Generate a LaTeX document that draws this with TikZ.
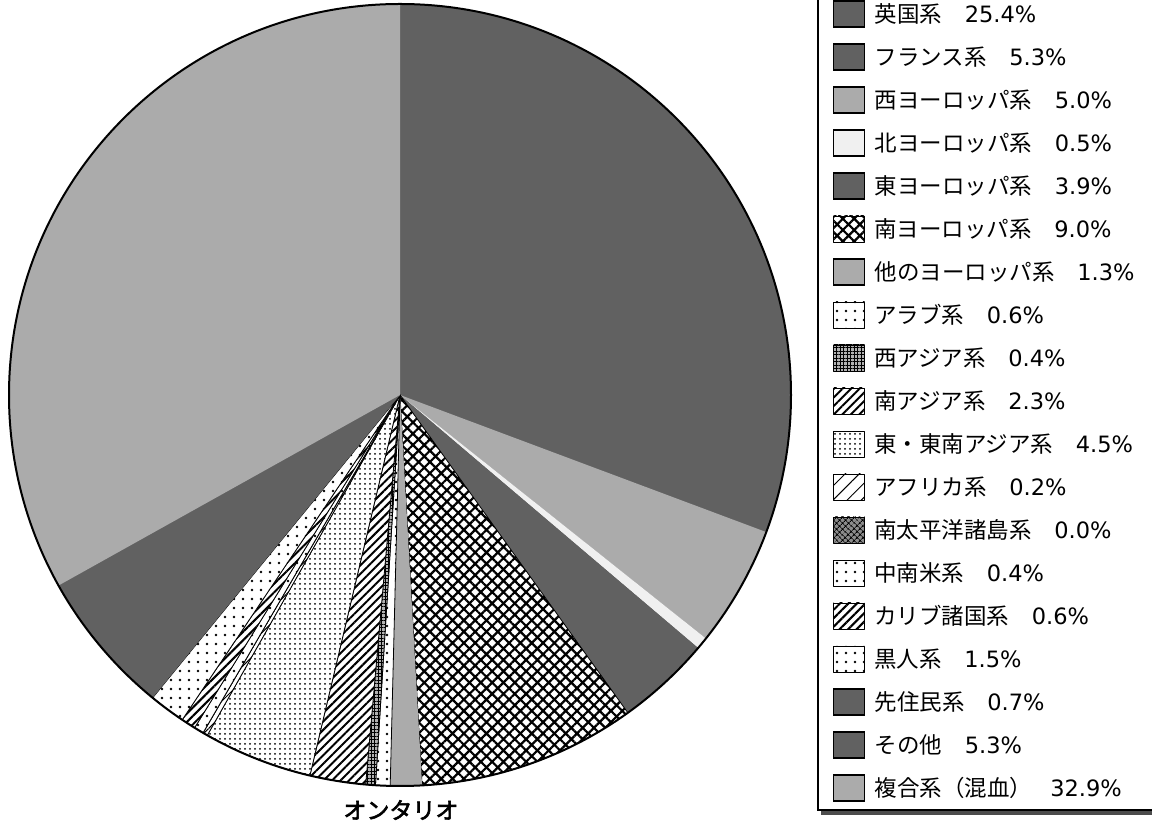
\documentclass[tikz,border=0pt]{standalone}
\usepackage{fontspec}
\setmainfont{Noto Sans CJK JP}
\newfontfamily\numfont{DejaVu Sans}
\newfontfamily\titlefont{Noto Sans CJK JP}[FakeBold=2.5]
\usepackage{tikz}
\usetikzlibrary{positioning, calc, patterns.meta}

\newcommand{\pct}[1]{{\numfont #1\%}}

\begin{document}
\begin{tikzpicture}[x=1pt, y=1pt, thick]

		% Define styles
		\tikzstyle{slice} = [draw=black, line width=0.8pt, line join=round]
		\tikzstyle{darkfill} = [fill=black!62]
		\tikzstyle{lightfill} = [fill=black!33]
		\tikzstyle{palefill} = [fill=black!6]
		\tikzstyle{crossfill} = [slice, fill=white, postaction={pattern={Hatch[angle=45, distance=8pt, line width=2.2pt]}}]
		\tikzstyle{dotfill} = [slice, fill=white, postaction={pattern={Dots[distance=9pt, radius=1.3pt]}}]
		\tikzstyle{gridfill} = [slice, fill=black!30, postaction={pattern={Hatch[angle=0, distance=3.5pt, line width=1pt]}}]
		\tikzstyle{hatchfill} = [slice, fill=white, postaction={pattern={Lines[angle=45, distance=6pt, line width=2pt]}}]
		\tikzstyle{dotgridfill} = [slice, fill=white, postaction={pattern={Dots[distance=5pt, radius=1pt]}}]
		\tikzstyle{thinfill} = [slice, fill=white, postaction={pattern={Lines[angle=45, distance=10pt, line width=1pt]}}]
		\tikzstyle{pacificfill} = [slice, fill=black!45, postaction={pattern={Hatch[angle=45, distance=4pt, line width=1pt]}}]
		\tikzstyle{swatch} = [rectangle, draw, line width=1.8pt, minimum width=31pt, minimum height=26pt, inner sep=0pt]
		\tikzstyle{entry} = [inner sep=0pt, anchor=west, font=\fontsize{22.5}{24}\selectfont]

		\useasboundingbox (0,0) rectangle (1152,824);

		% Pie
		\coordinate (pc) at (400,429);
		\fill[black!62] (pc) circle[radius=391pt];
		\foreach \a/\b/\sty in {0/25.4/darkfill, 25.4/30.7/darkfill, 30.7/35.7/lightfill,
			35.7/36.2/palefill, 36.2/40.1/darkfill, 40.1/49.1/crossfill, 49.1/50.4/lightfill,
			50.4/51.0/dotfill, 51.0/51.4/gridfill, 51.4/53.7/hatchfill, 53.7/58.2/dotgridfill,
			58.2/58.4/thinfill, 58.4/58.4/pacificfill, 58.4/58.8/dotfill, 58.8/59.4/hatchfill,
			59.4/60.9/dotfill, 60.9/61.6/darkfill, 61.6/66.9/darkfill, 66.9/100/lightfill}
			\path[\sty] (pc) -- ++({90-3.6*\a}:391pt)
				arc[start angle={90-3.6*\a}, end angle={90-3.6*\b}, radius=391pt] -- cycle;
		\draw[line width=2pt] (pc) circle[radius=391pt];

		\node[font=\fontsize{23}{25}\titlefont, inner sep=0pt, anchor=west] (title) at (343,14) {オンタリオ};

		% Legend
		\draw[line width=1.8pt] (818,830) -- (818,14) -- (1160,14);
		\fill[black!70] (821,9) rectangle (1160,13);
		\foreach \sty/\lab [count=\i] in {darkfill/{英国系\quad\pct{25.4}}, darkfill/{フランス系\quad\pct{5.3}},
			lightfill/{西ヨーロッパ系\quad\pct{5.0}}, palefill/{北ヨーロッパ系\quad\pct{0.5}},
			darkfill/{東ヨーロッパ系\quad\pct{3.9}}, crossfill/{南ヨーロッパ系\quad\pct{9.0}},
			lightfill/{他のヨーロッパ系\quad\pct{1.3}}, dotfill/{アラブ系\quad\pct{0.6}},
			gridfill/{西アジア系\quad\pct{0.4}}, hatchfill/{南アジア系\quad\pct{2.3}},
			dotgridfill/{東・東南アジア系\quad\pct{4.5}}, thinfill/{アフリカ系\quad\pct{0.2}},
			pacificfill/{南太平洋諸島系\quad\pct{0.0}}, dotfill/{中南米系\quad\pct{0.4}},
			hatchfill/{カリブ諸国系\quad\pct{0.6}}, dotfill/{黒人系\quad\pct{1.5}},
			darkfill/{先住民系\quad\pct{0.7}}, darkfill/{その他\quad\pct{5.3}},
			lightfill/{複合系（混血）\hspace{18pt}\pct{32.9}}}
		{
			\node[swatch, \sty] (s\i) at (849, {810-43*(\i-1)}) {};
			\node[entry, right=9pt of s\i] (l\i) {\lab};
		}

	\end{tikzpicture}
\end{document}
